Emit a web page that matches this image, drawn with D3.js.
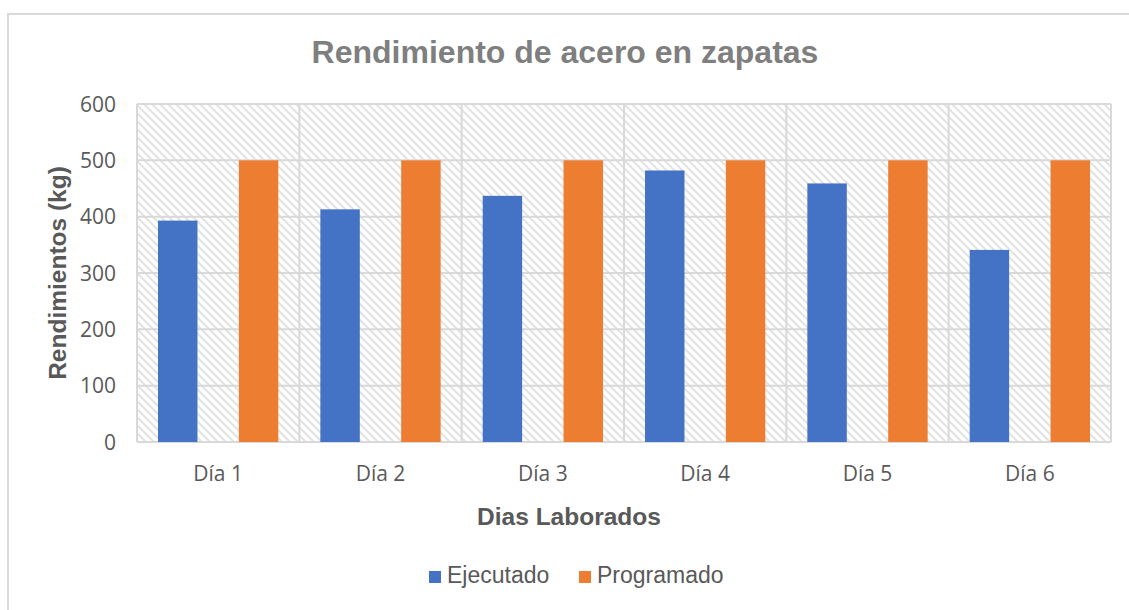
<!DOCTYPE html>
<html lang="es">
	<head>
		<meta charset="utf-8">
		<title>Rendimiento de acero en zapatas</title>
		<script type="text/javascript" src="https://cdn.jsdelivr.net/npm/d3@7/dist/d3.min.js"></script>
		<style type="text/css">
			body {
				margin: 0px;
				background: #ffffff;
			}
			text {
				font-family: "Liberation Sans", Arial, sans-serif;
			}
			.tick-label {
				font-family: "Open Sans", sans-serif;
				font-size: 21px;
				fill: #595959;
			}
		</style>
	</head>
	<body>
		<div id="chart"></div>
		<script type="text/javascript">
			//Data
			var dias = ["Día 1", "Día 2", "Día 3", "Día 4", "Día 5", "Día 6"];
			var series = ["Ejecutado", "Programado"];
			var ejecutado = [393, 413, 437, 482, 459, 341];
			var programado = [500, 500, 500, 500, 500, 500];
			var yTicks = [0, 100, 200, 300, 400, 500, 600];
			var colors = ["#4472C4", "#ED7D31"];

			var w = 1129;
			var h = 610;
			var margin = {left: 137, right: 18, top: 104, bottom: 168};

			var svg = d3.select("#chart")
				.append("svg")
				.attr("width", w)
				.attr("height", h);

			//Hatch pattern for plot background
			var pattern = svg.append("defs")
				.append("pattern")
				.attr("id", "hatch")
				.attr("patternUnits", "userSpaceOnUse")
				.attr("width", 8)
				.attr("height", 8);
			pattern.append("path")
				.attr("d", "M-2,-2 L10,10 M-2,6 L2,10 M6,-2 L10,2")
				.attr("stroke", "#e2e2e2")
				.attr("stroke-width", 2);

			//Chart border
			svg.append("rect")
				.attr("x", 8)
				.attr("y", 14)
				.attr("width", 1140)
				.attr("height", 620)
				.attr("fill", "none")
				.attr("stroke", "#d9d9d9")
				.attr("stroke-width", 2);

			//Scales
			var x = d3.scaleBand()
				.domain(dias)
				.range([margin.left, w - margin.right]);

			var xSub = d3.scaleBand()
				.domain(series)
				.range([0, x.bandwidth()])
				.paddingInner(0.512)
				.paddingOuter(0.26);

			var y = d3.scaleLinear()
				.domain([0, 600])
				.range([h - margin.bottom, margin.top]);

			//Plot background
			svg.append("rect")
				.attr("x", margin.left)
				.attr("y", margin.top)
				.attr("width", w - margin.left - margin.right)
				.attr("height", h - margin.top - margin.bottom)
				.attr("fill", "url(#hatch)");

			//Gridlines
			svg.append("g")
				.selectAll("line")
				.data(yTicks)
				.enter()
				.append("line")
				.attr("x1", margin.left)
				.attr("x2", w - margin.right)
				.attr("y1", function(d){ return y(d); })
				.attr("y2", function(d){ return y(d); })
				.attr("stroke", "#d9d9d9")
				.attr("stroke-width", 2);

			var bounds = dias.map(function(d){ return x(d); });
			bounds.push(w - margin.right);

			svg.append("g")
				.selectAll("line")
				.data(bounds)
				.enter()
				.append("line")
				.attr("x1", function(d){ return d; })
				.attr("x2", function(d){ return d; })
				.attr("y1", margin.top)
				.attr("y2", h - margin.bottom)
				.attr("stroke", "#d9d9d9")
				.attr("stroke-width", 2);

			//Bars
			var rows = dias.map(function(d, i){
				return {dia: d, values: [ejecutado[i], programado[i]]};
			});

			var groups = svg.append("g")
				.selectAll("g")
				.data(rows)
				.enter()
				.append("g")
				.attr("transform", function(d){ return "translate(" + x(d.dia) + ",0)"; });

			groups.selectAll("rect")
				.data(function(d){
					return d.values.map(function(v, i){ return {key: series[i], value: v, color: colors[i]}; });
				})
				.enter()
				.append("rect")
				.attr("x", function(d){ return xSub(d.key); })
				.attr("y", function(d){ return y(d.value); })
				.attr("width", xSub.bandwidth())
				.attr("height", function(d){ return y(0) - y(d.value); })
				.attr("fill", function(d){ return d.color; });

			//Axes labels
			svg.append("g")
				.selectAll("text")
				.data(yTicks)
				.enter()
				.append("text")
				.attr("class", "tick-label")
				.attr("x", 116)
				.attr("y", function(d){ return y(d); })
				.attr("dy", "0.36em")
				.attr("text-anchor", "end")
				.text(function(d){ return d; });

			svg.append("g")
				.selectAll("text")
				.data(dias)
				.enter()
				.append("text")
				.attr("class", "tick-label")
				.attr("x", function(d){ return x(d) + x.bandwidth() / 2; })
				.attr("y", 481)
				.attr("text-anchor", "middle")
				.text(function(d){ return d; });

			//Title
			svg.append("text")
				.attr("x", 565)
				.attr("y", 63)
				.attr("text-anchor", "middle")
				.attr("font-size", "32px")
				.attr("font-weight", "bold")
				.attr("fill", "#7f7f7f")
				.text("Rendimiento de acero en zapatas");

			svg.append("text")
				.attr("transform", "translate(66," + ((margin.top + h - margin.bottom) / 2) + ") rotate(-90)")
				.attr("text-anchor", "middle")
				.attr("font-size", "24.5px")
				.attr("font-weight", "bold")
				.attr("fill", "#595959")
				.text("Rendimientos (kg)");

			svg.append("text")
				.attr("x", 569)
				.attr("y", 525)
				.attr("text-anchor", "middle")
				.attr("font-size", "24.5px")
				.attr("font-weight", "bold")
				.attr("fill", "#595959")
				.text("Dias Laborados");

			//Legend
			var legendX = [429, 579];
			var legend = svg.append("g")
				.selectAll("g")
				.data(series)
				.enter()
				.append("g")
				.attr("transform", function(d, i){ return "translate(" + legendX[i] + ",571)"; });

			legend.append("rect")
				.attr("width", 12)
				.attr("height", 12)
				.attr("fill", function(d, i){ return colors[i]; });

			legend.append("text")
				.attr("x", 18)
				.attr("y", 12)
				.attr("font-size", "23px")
				.attr("fill", "#595959")
				.text(function(d){ return d; });
		</script>
	</body>
</html>
